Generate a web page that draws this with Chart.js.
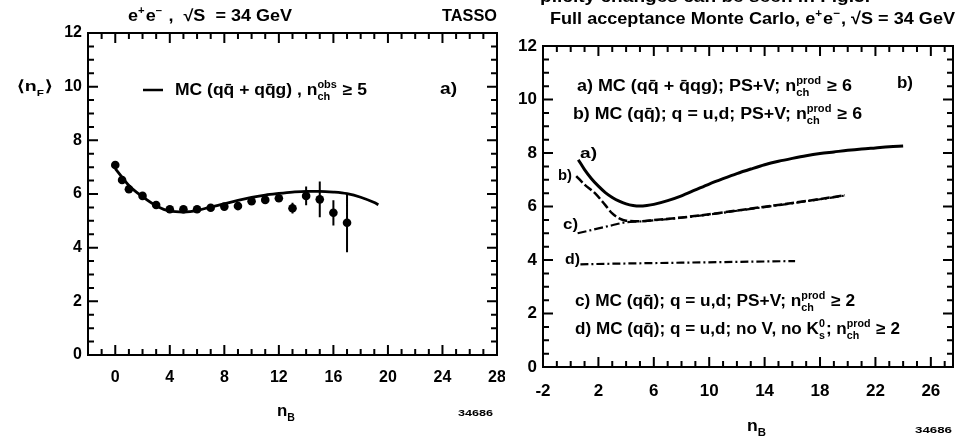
<!DOCTYPE html>
<html>
<head>
<meta charset="utf-8">
<script src="https://cdn.jsdelivr.net/npm/chart.js@4.4.0/dist/chart.umd.min.js"></script>
<style>
html, body { margin: 0; padding: 0; background: #fff; }
#wrap { position: relative; width: 966px; height: 436px; overflow: hidden; }
#left { position: absolute; left: 0; top: 0; }
#right { position: absolute; left: 505px; top: 0; }
</style>
</head>
<body>
<div id="wrap">
<canvas id="left" width="505" height="436"></canvas>
<canvas id="right" width="461" height="436"></canvas>
</div>
<script>
// ---- panel a) : TASSO data + MC ----
var nB    = [0, 0.5, 1, 2, 3, 4, 5, 6, 7, 8, 9, 10, 11, 12, 13, 14, 15, 16, 17];
var nF    = [7.08, 6.52, 6.18, 5.93, 5.59, 5.43, 5.43, 5.43, 5.49, 5.53, 5.55, 5.73, 5.78, 5.84, 5.47, 5.93, 5.80, 5.30, 4.93];
var nFerr = [0, 0, 0, 0, 0, 0, 0, 0, 0, 0, 0, 0, 0, 0, 0.2, 0.35, 0.67, 0.47, 1.1];
var mcX = [0, 1, 2, 3, 4, 5, 6, 7, 8, 9, 10, 11, 12, 13, 14, 15, 16, 17, 18, 19, 19.3];
var mcY = [6.95, 6.32, 5.9, 5.56, 5.36, 5.33, 5.38, 5.52, 5.63, 5.76, 5.87, 5.96, 6.02, 6.07, 6.1, 6.1, 6.07, 6.01, 5.88, 5.68, 5.6];
var xTicksA = [0, 4, 8, 12, 16, 20, 24, 28];

// ---- panel b) : full acceptance MC ----
var aX = [0.55, 1, 1.5, 2, 2.5, 3, 3.5, 4, 4.5, 5, 5.5, 6, 7, 8, 9, 10, 11, 12, 13, 14, 15, 16, 17, 18, 19, 20, 21, 22, 23, 24];
var aY = [7.75, 7.38, 7.04, 6.76, 6.52, 6.34, 6.2, 6.1, 6.04, 6.02, 6.04, 6.08, 6.22, 6.4, 6.62, 6.84, 7.04, 7.23, 7.4, 7.56, 7.69, 7.8, 7.9, 7.98, 8.04, 8.1, 8.15, 8.19, 8.23, 8.26];
var bX = [0.4, 1, 1.75, 2.5, 3, 3.5, 4, 5, 6, 8, 10, 12, 14, 16, 18, 19.8];
var bY = [7.14, 6.82, 6.5, 6.05, 5.74, 5.56, 5.47, 5.45, 5.49, 5.59, 5.71, 5.85, 5.99, 6.13, 6.28, 6.42];
var cX = [0.5, 2, 3, 4, 5, 6, 8, 10, 12, 14, 16, 18, 19.8];
var cY = [5.0, 5.18, 5.3, 5.41, 5.44, 5.48, 5.58, 5.7, 5.84, 5.98, 6.12, 6.27, 6.41];
var dX = [0.7, 4, 8, 12, 16.2];
var dY = [3.84, 3.87, 3.9, 3.93, 3.96];
var xTicksB = [-2, 2, 6, 10, 14, 18, 22, 26];
var yTicks = [0, 2, 4, 6, 8, 10, 12];

var font = '"Liberation Sans", Arial, sans-serif';

function pts(xs, ys) {
    return xs.map(function (x, i) { return { x: x, y: ys[i] }; });
}

var errPts = [];
nB.forEach(function (x, i) {
    if (nFerr[i] > 0) {
        errPts.push({ x: x, y: nF[i] - nFerr[i] }, { x: x, y: nF[i] + nFerr[i] }, { x: x, y: null });
    }
});

// text with stacked super/subscripts, squeezed to a given width
function richText(ctx, parts, x, cy, size, width) {
    var big = 'bold ' + size + 'px ' + font;
    var small = 'bold ' + Math.round(size * 0.62) + 'px ' + font;
    ctx.save();
    var total = 0;
    var items = parts.map(function (p) {
        var w;
        if (typeof p === 'string') {
            ctx.font = big;
            w = ctx.measureText(p).width;
        } else {
            ctx.font = small;
            w = Math.max(ctx.measureText(p.sup || '').width, ctx.measureText(p.sub || '').width) + 1;
        }
        total += w;
        return { p: p, w: w };
    });
    var sx = width ? width / total : 1;
    ctx.translate(x, cy + size * 0.36);
    ctx.scale(sx, 1);
    ctx.fillStyle = '#000';
    ctx.textBaseline = 'alphabetic';
    ctx.textAlign = 'left';
    var cx = 0;
    items.forEach(function (it) {
        var p = it.p;
        if (typeof p === 'string') {
            ctx.font = big;
            ctx.fillText(p, cx, 0);
        } else {
            ctx.font = small;
            if (p.sup) ctx.fillText(p.sup, cx, -size * 0.42);
            if (p.sub) ctx.fillText(p.sub, cx, size * 0.3);
        }
        cx += it.w;
    });
    ctx.restore();
}

// frame with inward ticks on all four sides
var framePlugin = {
    id: 'frame',
    afterDatasetsDraw: function (chart, args, opts) {
        var ctx = chart.ctx, a = chart.chartArea, xs = chart.scales.x, ys = chart.scales.y;
        ctx.save();
        ctx.strokeStyle = '#000';
        ctx.lineWidth = 2;
        ctx.strokeRect(a.left, a.top, a.right - a.left, a.bottom - a.top);
        ctx.beginPath();
        for (var v = Math.ceil(xs.min); v <= xs.max + 1e-9; v += 1) {
            var px = xs.getPixelForValue(v);
            var len = ((v - opts.xStart) % 4 === 0) ? 10 : 6;
            ctx.moveTo(px, a.bottom); ctx.lineTo(px, a.bottom - len);
            ctx.moveTo(px, a.top); ctx.lineTo(px, a.top + len);
        }
        for (var w = ys.min; w <= ys.max + 1e-9; w += 0.5) {
            var py = ys.getPixelForValue(w);
            var l2 = (w % 2 === 0) ? 10 : 6;
            ctx.moveTo(a.left, py); ctx.lineTo(a.left + l2, py);
            ctx.moveTo(a.right, py); ctx.lineTo(a.right - l2, py);
        }
        ctx.stroke();
        ctx.restore();
    }
};

var leftText = {
    id: 'leftText',
    afterDraw: function (chart) {
        var ctx = chart.ctx;
        richText(ctx, ['e', { sup: '+' }, 'e', { sup: '\u2212' }, ' ,  \u221AS  = 34 GeV'], 128, 15, 16, 164);
        richText(ctx, ['TASSO'], 442, 15, 16, 55);
        richText(ctx, ['\u27E8n', { sub: 'F' }, '\u27E9'], 17, 86, 15, 36);
        ctx.save();
        ctx.strokeStyle = '#000';
        ctx.lineWidth = 2.5;
        ctx.beginPath(); ctx.moveTo(143, 90); ctx.lineTo(163, 90); ctx.stroke();
        ctx.restore();
        richText(ctx, ['MC (qq\u0304 + qq\u0304g) , n', { sup: 'obs', sub: 'ch' }, ' \u2265 5'], 175, 89, 16, 192);
        richText(ctx, ['a)'], 440, 88, 16, 17);
        richText(ctx, ['n', { sub: 'B' }], 277, 410, 16, 19);
        richText(ctx, ['34686'], 458, 413, 9, 35);
    }
};

var rightText = {
    id: 'rightText',
    afterDraw: function (chart) {
        var ctx = chart.ctx;
        richText(ctx, ['plicity changes can be seen in Fig.5.'], 35, -4, 16, 330);
        richText(ctx, ['Full acceptance Monte Carlo, e', { sup: '+' }, 'e', { sup: '\u2212' }, ', \u221AS = 34 GeV'], 45, 18, 17, 405);
        richText(ctx, ['a) MC (qq\u0304 + q\u0304qg); PS+V; n', { sup: 'prod', sub: 'ch' }, ' \u2265 6'], 72, 85, 16, 275);
        richText(ctx, ['b) MC (qq\u0304); q = u,d; PS+V; n', { sup: 'prod', sub: 'ch' }, ' \u2265 6'], 68, 113, 16, 289);
        richText(ctx, ['b)'], 392, 82, 17, 16);
        richText(ctx, ['a)'], 75, 153, 15, 17);
        richText(ctx, ['b)'], 53, 175, 15, 14);
        richText(ctx, ['c)'], 58, 224, 15, 15);
        richText(ctx, ['d)'], 60, 259, 15, 15);
        richText(ctx, ['c) MC (qq\u0304); q = u,d; PS+V; n', { sup: 'prod', sub: 'ch' }, ' \u2265 2'], 70, 300, 16, 280);
        richText(ctx, ['d) MC (qq\u0304); q = u,d; no V, no K', { sup: '0', sub: 's' }, '; n', { sup: 'prod', sub: 'ch' }, ' \u2265 2'], 70, 328, 16, 325);
        richText(ctx, ['n', { sub: 'B' }], 242, 425, 17, 20);
        richText(ctx, ['34686'], 410, 430, 9, 37);
    }
};

function tickFont(size) {
    return { family: font, size: size, weight: 'bold' };
}

var leftChart = new Chart(document.getElementById('left'), {
    type: 'scatter',
    data: {
        datasets: [
            { data: errPts, showLine: true, borderColor: '#000', borderWidth: 2, pointRadius: 0, spanGaps: false },
            { data: pts(nB, nF), pointRadius: 4.3, pointBackgroundColor: '#000', pointBorderWidth: 0 },
            { data: pts(mcX, mcY), showLine: true, borderColor: '#000', borderWidth: 2.8, pointRadius: 0, cubicInterpolationMode: 'monotone' }
        ]
    },
    options: {
        responsive: false,
        animation: false,
        events: [],
        layout: { padding: { left: 38, right: 8, top: 33, bottom: 51 } },
        scales: {
            x: {
                type: 'linear', min: -2, max: 28,
                grid: { display: false, drawTicks: false },
                border: { display: false },
                afterBuildTicks: function (s) { s.ticks = xTicksA.map(function (v) { return { value: v }; }); },
                afterFit: function (s) { s.height = 30; s.paddingLeft = 0; s.paddingRight = 0; },
                ticks: { color: '#000', padding: 13, font: tickFont(16), maxRotation: 0, autoSkip: false }
            },
            y: {
                type: 'linear', min: 0, max: 12,
                grid: { display: false, drawTicks: false },
                border: { display: false },
                afterBuildTicks: function (s) { s.ticks = yTicks.map(function (v) { return { value: v }; }); },
                afterFit: function (s) { s.width = 50; s.paddingTop = 0; s.paddingBottom = 0; },
                ticks: { color: '#000', padding: 6, font: tickFont(16) }
            }
        },
        plugins: {
            legend: { display: false },
            tooltip: { enabled: false },
            frame: { xStart: 0 }
        }
    },
    plugins: [framePlugin, leftText]
});

var rightChart = new Chart(document.getElementById('right'), {
    type: 'scatter',
    data: {
        datasets: [
            { data: pts(aX, aY), showLine: true, borderColor: '#000', borderWidth: 3, pointRadius: 0, cubicInterpolationMode: 'monotone' },
            { data: pts(bX, bY), showLine: true, borderColor: '#000', borderWidth: 2.5, borderDash: [9, 3], pointRadius: 0, cubicInterpolationMode: 'monotone' },
            { data: pts(cX, cY), showLine: true, borderColor: '#000', borderWidth: 2.2, borderDash: [9, 3, 2, 3], pointRadius: 0, cubicInterpolationMode: 'monotone' },
            { data: pts(dX, dY), showLine: true, borderColor: '#000', borderWidth: 2.2, borderDash: [8, 3, 2, 3], pointRadius: 0 }
        ]
    },
    options: {
        responsive: false,
        animation: false,
        events: [],
        layout: { padding: { left: 4, right: 13, top: 46, bottom: 39 } },
        scales: {
            x: {
                type: 'linear', min: -2, max: 27.6,
                grid: { display: false, drawTicks: false },
                border: { display: false },
                afterBuildTicks: function (s) { s.ticks = xTicksB.map(function (v) { return { value: v }; }); },
                afterFit: function (s) { s.height = 30; s.paddingLeft = 0; s.paddingRight = 0; },
                ticks: { color: '#000', padding: 14, font: tickFont(17), maxRotation: 0, autoSkip: false }
            },
            y: {
                type: 'linear', min: 0, max: 12,
                grid: { display: false, drawTicks: false },
                border: { display: false },
                afterBuildTicks: function (s) { s.ticks = yTicks.map(function (v) { return { value: v }; }); },
                afterFit: function (s) { s.width = 34; s.paddingTop = 0; s.paddingBottom = 0; },
                ticks: { color: '#000', padding: 6, font: tickFont(17) }
            }
        },
        plugins: {
            legend: { display: false },
            tooltip: { enabled: false },
            frame: { xStart: -2 }
        }
    },
    plugins: [framePlugin, rightText]
});
</script>
</body>
</html>
